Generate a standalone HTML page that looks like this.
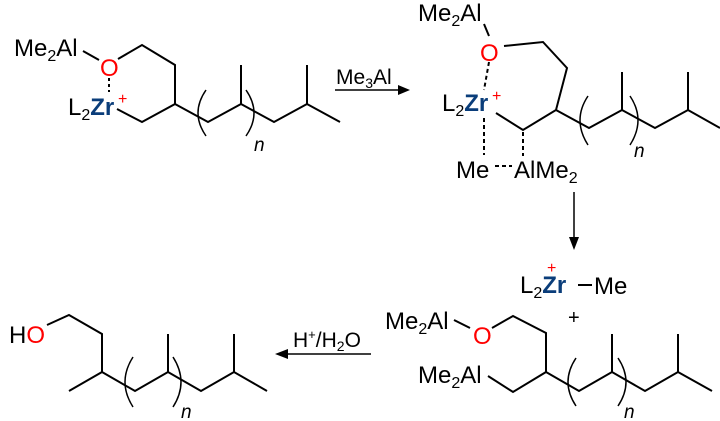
<!DOCTYPE html>
<html><head><style>html,body{margin:0;padding:0;background:#fff}svg{display:block}
text{font-family:"Liberation Sans",sans-serif;font-size:24px;fill:#000}
.r{fill:#f00}.b{fill:#0a3d7a;font-weight:bold}.p{fill:#f00;font-size:16px}.s{font-size:16px}.n{font-style:italic;font-size:19px}
</style></head><body>
<svg width="720" height="421" viewBox="0 0 720 421" xmlns="http://www.w3.org/2000/svg">
<g stroke="#000" stroke-width="2" fill="none">
<path d="M83,51 L99,60 M118,59 L142,45 L175,65 L175,104 L142,122 L117,109 M175,104 L208,122 L241,104 L274,122 L307,104 L340,122 M241,104 L241,65 M307,104 L307,65"/>
<path d="M109,78 L109,92" stroke-dasharray="3,3"/>
<path d="M206,90 Q190,113 206,136 M246,90 Q262,113 246,136" stroke-width="1.5"/>
<path d="M335,90 L400,90" stroke-width="1.5"/>
<path d="M484,24 L489,36 M504,46 L543,42 L567,68 L556,110 L523,130 L496,113 M556,110 L589,128 L622,110 L655,128 L688,110 L720,128 M622,110 L622,72 M688,110 L688,72"/>
<path d="M489,62 L484,90 M484,118 L484,155 M523,132 L523,156 M495,166 L512,166" stroke-dasharray="4,3"/>
<path d="M588,96 Q572,120 588,145 M630,96 Q646,120 630,145" stroke-width="1.5"/>
<path d="M574,192 L574,238" stroke-width="1.5"/>
<path d="M578,285 L592,285"/>
<path d="M454,320 L470,328 M492,328 L513,316 L546,333 L546,372 L513,392 L488,376 M546,372 L579,391 L612,372 L645,391 L678,372 L712,391 M612,372 L612,334 M678,372 L678,334"/>
<path d="M576,358 Q560,382 576,406 M618,358 Q634,382 618,406" stroke-width="1.5"/>
<path d="M371,354 L285,354" stroke-width="1.5"/>
<path d="M47,325 L69,315 L102,334 L102,372 L69,391 M102,372 L135,391 L168,372 L201,391 L234,372 L267,391 M168,372 L168,334 M234,372 L234,334"/>
<path d="M133,357 Q117,382 133,407 M173,357 Q189,382 173,407" stroke-width="1.5"/>
</g>
<polygon points="410,90 398,85 398,95" fill="#000"/>
<polygon points="574,250 569,237 579,237" fill="#000"/>
<polygon points="275,354 288,349 288,359" fill="#000"/>
<text x="14" y="56">Me<tspan class="s" dy="5">2</tspan><tspan dy="-5">Al</tspan></text>
<text x="100" y="76" class="r">O</text>
<text x="68" y="115">L<tspan class="s" dy="5">2</tspan><tspan dy="-5" class="b">Zr</tspan></text>
<text x="118" y="104" class="p">+</text>
<text x="254" y="151" class="n">n</text>
<text x="336" y="84" style="font-size:21px">Me<tspan style="font-size:14px" dy="4">3</tspan><tspan dy="-4">Al</tspan></text>
<text x="418" y="21">Me<tspan class="s" dy="5">2</tspan><tspan dy="-5">Al</tspan></text>
<text x="480" y="61" class="r">O</text>
<text x="442" y="111">L<tspan class="s" dy="5">2</tspan><tspan dy="-5" class="b">Zr</tspan></text>
<text x="492" y="101" class="p">+</text>
<text x="456" y="178">Me</text>
<text x="514" y="178">AlMe<tspan class="s" dy="5">2</tspan></text>
<text x="634" y="157" class="n">n</text>
<text x="520" y="293">L<tspan class="s" dy="5">2</tspan><tspan dy="-5" class="b">Zr</tspan></text>
<text x="547" y="273" class="p">+</text>
<text x="594" y="294">Me</text>
<text x="568" y="324" style="font-size:20px">+</text>
<text x="385" y="329">Me<tspan class="s" dy="5">2</tspan><tspan dy="-5">Al</tspan></text>
<text x="473" y="344" class="r">O</text>
<text x="418" y="383">Me<tspan class="s" dy="5">2</tspan><tspan dy="-5">Al</tspan></text>
<text x="624" y="418" class="n">n</text>
<text x="293" y="347" style="font-size:21px">H<tspan style="font-size:13px" dy="-8">+</tspan><tspan dy="8">/H</tspan><tspan style="font-size:14px" dy="4">2</tspan><tspan dy="-4">O</tspan></text>
<text x="9" y="343">H<tspan class="r">O</tspan></text>
<text x="181" y="418" class="n">n</text>
</svg>
</body></html>
